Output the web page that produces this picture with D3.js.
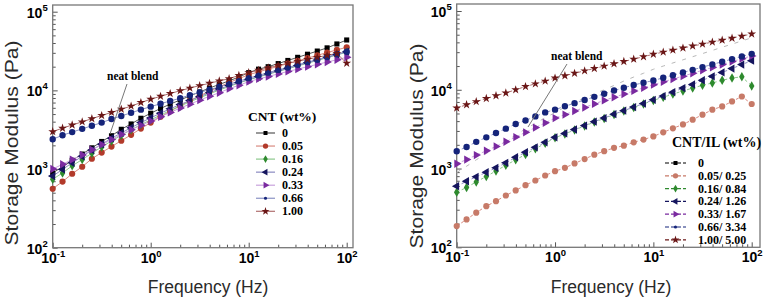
<!DOCTYPE html>
<html>
<head>
<meta charset="utf-8">
<script src="https://cdn.jsdelivr.net/npm/d3@7"></script>
<style>
body { margin: 0; background: #fff; }
svg { display: block; }
</style>
</head>
<body>
<svg width="765" height="308"></svg>
<script>
// frequency sweep, Hz (10 points per decade)
var freq = [0.1, 0.126, 0.158, 0.2, 0.251, 0.316, 0.398, 0.501, 0.631, 0.794,
            1, 1.26, 1.58, 2, 2.51, 3.16, 3.98, 5.01, 6.31, 7.94,
            10, 12.6, 15.8, 20, 25.1, 31.6, 39.8, 50.1, 63.1, 79.4, 100];

// left panel: CNT (wt%)
var cntLabels = ["0", "0.05", "0.16", "0.24", "0.33", "0.66", "1.00"];
var cnt0   = [890, 1070, 1290, 1550, 1860, 2240, 2650, 3200, 3740, 4420, 5120, 5890, 6680, 7550, 8510, 9550, 10700, 11900, 13200, 14800, 16800, 18600, 20000, 21900, 24000, 26300, 28800, 31600, 34700, 38900, 43700];
var cnt005 = [562, 692, 871, 1070, 1350, 1620, 1930, 2290, 2720, 3270, 3890, 4620, 5430, 6380, 7410, 8510, 9770, 11100, 12600, 14100, 15800, 17200, 18600, 20200, 21900, 23700, 25700, 27900, 30200, 32700, 35300];
var cnt016 = [741, 891, 1100, 1320, 1590, 1910, 2270, 2690, 3160, 3670, 4220, 4840, 5560, 6310, 7160, 8040, 9020, 10100, 11200, 12400, 13600, 14800, 16000, 17400, 18800, 20400, 22100, 24000, 26000, 28200, 30500];
var cnt024 = [813, 989, 1200, 1450, 1740, 2070, 2460, 2880, 3350, 3890, 4470, 5130, 5820, 6610, 7410, 8320, 9330, 10400, 11500, 12600, 13800, 15000, 16200, 17600, 19100, 20700, 22400, 24300, 26300, 28500, 30900];
var cnt033 = [1000, 1150, 1320, 1510, 1760, 2040, 2370, 2750, 3160, 3590, 4070, 4620, 5250, 5960, 6680, 7500, 8410, 9330, 10500, 11600, 12900, 14000, 15000, 16200, 17400, 18600, 20000, 21400, 22900, 24500, 26300];
var cnt066 = [2390, 2690, 2950, 3240, 3550, 3890, 4320, 4730, 5190, 5690, 6210, 6760, 7330, 7940, 8710, 9440, 10200, 11100, 12000, 13100, 14300, 15500, 16800, 18200, 19500, 21100, 22900, 24500, 26600, 28800, 31000];
var cnt100 = [2990, 3310, 3630, 3980, 4370, 4790, 5250, 5750, 6310, 7000, 7710, 8410, 9120, 9890, 10700, 11500, 12300, 13200, 14100, 15500, 16800, 18000, 19300, 20700, 22100, 23400, 24800, 26300, 27900, 29500, 22100];

// right panel: CNT/IL (wt%)
var ilLabels = ["0", "0.05/ 0.25", "0.16/ 0.84", "0.24/ 1.26", "0.33/ 1.67", "0.66/ 3.34", "1.00/ 5.00"];
var il0   = [890, 1070, 1290, 1550, 1860, 2240, 2650, 3200, 3740, 4420, 5120, 6030, 6920, 7850, 8910, 10000, 11350, 12900, 14500, 16200, 18200, 20000, 21900, 24000, 26300, 28800, 31600, 34700, 38000, 41700, 45700];
var il005 = [186, 226, 275, 333, 385, 455, 527, 615, 705, 815, 925, 1020, 1160, 1320, 1500, 1660, 1830, 1950, 2150, 2330, 2560, 2880, 3240, 3630, 4170, 4830, 5590, 6150, 7110, 8220, 6590];
var il016 = [501, 575, 676, 794, 933, 1100, 1290, 1510, 1780, 2090, 2460, 2750, 3090, 3470, 3890, 4320, 4840, 5370, 5960, 6610, 7330, 8040, 8810, 9660, 10500, 11400, 12200, 13200, 14100, 14600, 11200];
var il024 = [597, 690, 785, 897, 1020, 1180, 1390, 1610, 1860, 2150, 2490, 2790, 3130, 3510, 3940, 4370, 4900, 5430, 6030, 6680, 7460, 8320, 9330, 10500, 11700, 13200, 14800, 16600, 18600, 20900, 23400];
var il033 = [1150, 1300, 1480, 1680, 1910, 2190, 2510, 2880, 3310, 3800, 4370, 4840, 5370, 5960, 6610, 7330, 8040, 8810, 9660, 10600, 11600, 12600, 13700, 14900, 16200, 17700, 19200, 20900, 22800, 24800, 26900];
var il066 = [1660, 1880, 2180, 2490, 2830, 3210, 3680, 4080, 4590, 5160, 5590, 6170, 6760, 7410, 8130, 8910, 9770, 10600, 11500, 12300, 13100, 14200, 15300, 16600, 17900, 19400, 21000, 22700, 24500, 26500, 28600];
var il100 = [5860, 6460, 7080, 7760, 8410, 9120, 10000, 11000, 11900, 12900, 14100, 15100, 16200, 17400, 18600, 20000, 21400, 22900, 24500, 26300, 28300, 30100, 31900, 33900, 35900, 38000, 40300, 42700, 45200, 47900, 51200];

var yTickVals = [100, 1000, 10000, 100000];
var xTickVals = [0.1, 1, 10, 100];

// marker style per series (same order in both panels)
var styles = [
    {shape: "square",   fill: "#000000", line: "#555555", size: 26, legSize: 16},
    {shape: "circle",   fill: "#b23a2a", line: "#d98a80", size: 30, legSize: 22},
    {shape: "diamond",  fill: "#2e8a2e", line: "#8cc88c", size: 26, legSize: 18},
    {shape: "triLeft",  fill: "#15155e", line: "#8a8ac0", size: 30, legSize: 20},
    {shape: "triRight", fill: "#7a2aa0", line: "#c9a2dc", size: 30, legSize: 20},
    {shape: "circle",   fill: "#15247a", line: "#8a92c4", size: 32, legSize: 8},
    {shape: "star",     fill: "#6a1616", line: "#b07070", size: 24, legSize: 20}
];
var rightFill = ["#000000", "#c77a68", "#2e8a2e", "#15155e", "#7a2aa0", "#15247a", "#6a1616"];

var svg = d3.select("svg");

function symbolPath(shape, size) {
    var t = {square: d3.symbolSquare, circle: d3.symbolCircle, diamond: d3.symbolDiamond,
             triLeft: d3.symbolTriangle, triRight: d3.symbolTriangle, star: d3.symbolStar}[shape];
    return d3.symbol().type(t).size(size)();
}
function symbolRot(shape) {
    if (shape == "triLeft") return " rotate(-90)";
    if (shape == "triRight") return " rotate(90)";
    return "";
}

function isMajor(d) {
    var l = Math.log10(d);
    return Math.abs(l - Math.round(l)) < 1e-6;
}

function drawPanel(p) {
    var x = d3.scaleLog().domain([0.1, 100]).range([p.xLeft, p.x100]);
    var y = d3.scaleLog().domain([100, 100000]).range([p.y100, p.y1e5]);
    var g = svg.append("g");

    // minor + major ticks
    var xt = [], yt = [];
    for (var e = -1; e <= 2; e++) for (var m = 1; m <= 9; m++) {
        var v = m * Math.pow(10, e);
        if (v <= 100.0001) xt.push(+v.toPrecision(3));
    }
    for (var e2 = 2; e2 <= 5; e2++) for (var m2 = 1; m2 <= 9; m2++) {
        var v2 = m2 * Math.pow(10, e2);
        if (v2 <= 100000.1) yt.push(v2);
    }

    var gx = g.append("g")
        .attr("transform", "translate(0," + p.y100 + ")")
        .call(d3.axisBottom(x).tickValues(xt).tickSize(-3).tickFormat(""));
    gx.select(".domain").remove();
    gx.selectAll(".tick line").attr("stroke", "#555").attr("y2", function(d) { return isMajor(d) ? -5 : -3; });
    gx.selectAll(".tick text").remove();
    gx.selectAll(".tick").filter(function(d) { return xTickVals.indexOf(d) >= 0; })
        .append("text")
        .attr("y", 15)
        .attr("text-anchor", "middle")
        .style("font-family", "'Liberation Sans', Arial, sans-serif")
        .style("font-weight", "bold")
        .style("font-size", "14px")
        .attr("fill", "#000")
        .each(function(d) {
            var t = d3.select(this);
            t.append("tspan").text("10");
            t.append("tspan").attr("dy", -6).style("font-size", "9.5px").text(Math.round(Math.log10(d)));
        });

    var gy = g.append("g")
        .attr("transform", "translate(" + p.xLeft + ",0)")
        .call(d3.axisLeft(y).tickValues(yt).tickSize(-3).tickFormat(""));
    gy.select(".domain").remove();
    gy.selectAll(".tick line").attr("stroke", "#555").attr("x2", function(d) { return isMajor(d) ? 5 : 3; });
    gy.selectAll(".tick text").remove();
    gy.selectAll(".tick").filter(function(d) { return yTickVals.indexOf(d) >= 0; })
        .append("text")
        .attr("x", -5)
        .attr("y", 5.5)
        .attr("text-anchor", "end")
        .style("font-family", "'Liberation Sans', Arial, sans-serif")
        .style("font-weight", "bold")
        .style("font-size", "14px")
        .attr("fill", "#000")
        .each(function(d) {
            var t = d3.select(this);
            t.append("tspan").text("10");
            t.append("tspan").attr("dy", -7).style("font-size", "9.5px").text(Math.round(Math.log10(d)));
        });

    // frame
    g.append("rect")
        .attr("x", p.xLeft).attr("y", p.frameTop)
        .attr("width", p.frameRight - p.xLeft).attr("height", p.y100 - p.frameTop)
        .attr("fill", "none").attr("stroke", "#777").attr("stroke-width", 1.3);

    // series lines
    var line = d3.line().x(function(d) { return x(d[0]); }).y(function(d) { return y(d[1]); });
    p.series.forEach(function(vals, i) {
        var pts = freq.map(function(f, k) { return [f, vals[k]]; });
        var path = g.append("path").datum(pts)
            .attr("fill", "none")
            .attr("d", line);
        if (p.dashed) {
            path.attr("stroke", i == 0 ? "#b8b8b8" : styles[i].line)
                .attr("stroke-width", 1)
                .attr("stroke-dasharray", i == 0 ? "4,7" : "3,2.5");
        } else {
            path.attr("stroke", styles[i].line).attr("stroke-width", 1);
        }
    });

    // markers
    p.series.forEach(function(vals, i) {
        if (p.dashed && i == 0) return;   // neat blend shown as faint dashes only
        var st = styles[i];
        var fill = p.dashed ? rightFill[i] : st.fill;
        g.append("g").selectAll("path")
            .data(freq.map(function(f, k) { return [f, vals[k]]; }))
            .join("path")
            .attr("d", symbolPath(st.shape, st.size))
            .attr("transform", function(d) { return "translate(" + x(d[0]) + "," + y(d[1]) + ")" + symbolRot(st.shape); })
            .attr("fill", fill);
    });

    // legend
    var lg = g.append("g");
    lg.append("text")
        .attr("x", p.legTitleX).attr("y", p.legTitleY)
        .style("font-family", "'Liberation Serif', 'Times New Roman', serif")
        .style("font-weight", "bold")
        .style("font-size", p.legTitleSize + "px")
        .text(p.legTitle);
    p.labels.forEach(function(lab, i) {
        var cy = p.legY + i * p.legStep;
        var st = styles[i];
        lg.append("line")
            .attr("x1", p.legX1).attr("x2", p.legX2).attr("y1", cy).attr("y2", cy)
            .attr("stroke", p.dashed ? rightFill[i] : st.line)
            .attr("stroke-width", 1.2)
            .attr("stroke-dasharray", p.dashed ? "4,2" : null);
        lg.append("path")
            .attr("d", symbolPath(st.shape, st.legSize))
            .attr("transform", "translate(" + ((p.legX1 + p.legX2) / 2) + "," + cy + ")" + symbolRot(st.shape))
            .attr("fill", p.dashed ? rightFill[i] : st.fill);
        lg.append("text")
            .attr("x", p.legTextX).attr("y", cy + 4)
            .style("font-family", "'Liberation Serif', 'Times New Roman', serif")
            .style("font-weight", "bold")
            .style("font-size", "12px")
            .text(lab);
    });

    // neat blend annotation
    g.append("text")
        .attr("x", p.noteX).attr("y", p.noteY)
        .style("font-family", "'Liberation Serif', 'Times New Roman', serif")
        .style("font-weight", "bold")
        .style("font-size", "11.5px")
        .text("neat blend");
    g.append("line")
        .attr("x1", p.arrow[0]).attr("y1", p.arrow[1])
        .attr("x2", p.arrow[2]).attr("y2", p.arrow[3])
        .attr("stroke", "#777").attr("stroke-width", 1);

    // axis titles
    g.append("text")
        .attr("transform", "translate(" + p.yLabX + "," + p.yLabY + ") rotate(-90)")
        .attr("text-anchor", "middle")
        .attr("textLength", 205)
        .attr("lengthAdjust", "spacingAndGlyphs")
        .style("font-family", "'Liberation Sans', Arial, sans-serif")
        .style("font-size", "18px")
        .attr("fill", "#2a2a2a")
        .text("Storage Modulus (Pa)");
    g.append("text")
        .attr("x", p.xLabX).attr("y", 293)
        .attr("text-anchor", "middle")
        .style("font-family", "'Liberation Sans', Arial, sans-serif")
        .style("font-size", "17.5px")
        .attr("fill", "#2a2a2a")
        .text("Frequency (Hz)");
}

drawPanel({
    xLeft: 52.7, x100: 346.7, frameRight: 353, y100: 247.7, y1e5: 11.7, frameTop: 5,
    series: [cnt0, cnt005, cnt016, cnt024, cnt033, cnt066, cnt100],
    labels: cntLabels, dashed: false,
    legTitle: "CNT (wt%)", legTitleX: 248, legTitleY: 121, legTitleSize: 13.5,
    legY: 133, legStep: 13.05, legX1: 256, legX2: 275, legTextX: 282,
    noteX: 107, noteY: 80, arrow: [127, 84, 110, 134],
    yLabX: 18, yLabY: 143, xLabX: 208
});

drawPanel({
    xLeft: 456.7, x100: 751.7, frameRight: 760, y100: 247.3, y1e5: 11, frameTop: 4,
    series: [il0, il005, il016, il024, il033, il066, il100],
    labels: ilLabels, dashed: true,
    legTitle: "CNT/IL (wt%)", legTitleX: 672, legTitleY: 147, legTitleSize: 14,
    legY: 163, legStep: 12.8, legX1: 665, legX2: 686, legTextX: 698,
    noteX: 551, noteY: 60, arrow: [567, 64, 528, 127],
    yLabX: 423, yLabY: 146, xLabX: 611
});
</script>
</body>
</html>
